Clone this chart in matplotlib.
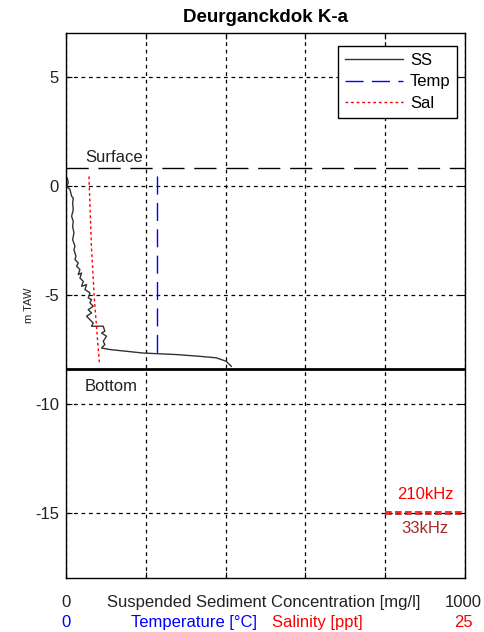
import matplotlib
matplotlib.use("Agg")
import matplotlib.pyplot as plt

plt.rcParams['font.family'] = ['Liberation Sans', 'DejaVu Sans']
plt.rcParams['axes.unicode_minus'] = False

# Data
ss_conc = [3.3, 5.8, 1.7, 10, 14.2, 18.3, 16.7, 18.3, 14.2, 18.3, 16.7, 20, 16.7, 22.5, 20,
           25, 22.5, 30.8, 26.7, 35, 30.8, 39.2, 35, 43.3, 39.2, 51.7, 47.5, 60, 55.8, 64.2,
           60, 68.3, 55.8, 64.2, 51.7, 60, 68.3, 64.2, 93.3, 97.5, 89.2, 101.7, 93.3, 97.5,
           89.2, 110, 151.7, 193.3, 276.7, 335, 376.7, 401.7, 414.2]
ss_depth = [0.35, 0.12, -0.03, -0.18, -0.49, -0.57, -0.80, -1.10, -1.41, -1.64, -1.87, -2.17,
            -2.48, -2.78, -2.94, -3.24, -3.39, -3.55, -3.70, -3.85, -4.08, -4.01, -4.24, -4.39,
            -4.62, -4.54, -4.77, -4.92, -5.15, -5.23, -5.38, -5.53, -5.69, -5.84, -5.99, -6.15,
            -6.30, -6.45, -6.45, -6.68, -6.76, -6.91, -7.14, -7.29, -7.45, -7.52, -7.60, -7.68,
            -7.75, -7.83, -7.90, -8.06, -8.29]
temp_val = [5.7, 5.7]            # degC
temp_depth = [0.45, -8.0]
sal_val = [1.44, 1.6, 1.78, 1.97, 2.1]   # ppt
sal_depth = [0.42, -2.9, -5.2, -7.0, -8.2]
surface_level = 0.83
bottom_level = -8.4
freq_levels = [-14.95, -15.05]
freq_labels = ['210kHz', '33kHz']
ss_max = 1000
scale_max = 25   # temperature / salinity axis max

FS = 12
TXT = '#222222'

fig = plt.figure(figsize=(4.85, 6.32), dpi=100)
ax = fig.add_axes([0.136, 0.0854, 0.823, 0.8624])

ax.plot(ss_conc, ss_depth, color='#333333', lw=1.0, label='SS')
f = ss_max / scale_max
ax.plot([v * f for v in temp_val], temp_depth, color='blue', lw=1.0,
        dashes=(13, 6), label='Temp')
ax.plot([v * f for v in sal_val], sal_depth, color='red', lw=1.0,
        dashes=(2, 2), label='Sal')

ax.axhline(surface_level, color='black', lw=1.0, dashes=(16, 7))
ax.axhline(bottom_level, color='black', lw=2.0)
ax.text(48, surface_level + 0.1, 'Surface', fontsize=FS, ha='left', va='bottom', color=TXT)
ax.text(48, bottom_level - 0.45, 'Bottom', fontsize=FS, ha='left', va='top', color=TXT)

ax.plot([800, 1000], [freq_levels[0]] * 2, color='red', lw=1.2, dashes=(4, 2))
ax.plot([800, 1000], [freq_levels[1]] * 2, color='#a52a2a', lw=1.2, dashes=(4, 2))
ax.text(900, -14.5, freq_labels[0], color='red', fontsize=FS, ha='center', va='bottom')
ax.text(900, -15.4, freq_labels[1], color='#a52a2a', fontsize=FS, ha='center', va='top')

ax.set_xlim(0, ss_max)
ax.set_ylim(-18, 7)
ax.set_xticks([0, 200, 400, 600, 800, 1000])
ax.set_xticklabels([])
ax.set_yticks([-15, -10, -5, 0, 5])
ax.tick_params(direction='in', top=True, right=True, labelsize=FS, length=4, color='black',
               labelcolor=TXT, pad=5)
ax.grid(True, color='black', lw=0.9, linestyle=(0, (3, 3)))
for s in ax.spines.values():
    s.set_linewidth(1.0)

ax.set_ylabel('m TAW', fontsize=8, color=TXT)
ax.yaxis.set_label_coords(-0.08, 0.5)
ax.set_title('Deurganckdok K-a', fontsize=13.5, fontweight='bold', pad=8)

leg = ax.legend(loc='upper right', bbox_to_anchor=(0.98, 0.976), borderaxespad=0,
                fontsize=FS, frameon=True, fancybox=False, edgecolor='black', framealpha=1,
                handlelength=3.5, borderpad=0.4, labelspacing=0.4, handletextpad=0.4)
leg.get_frame().set_linewidth(1.0)

# bottom labels
r1, r2 = -19.12, -20.03
ax.text(0, r1, '0', fontsize=FS, ha='center', va='center', color=TXT)
ax.text(495, r1, 'Suspended Sediment Concentration [mg/l]', fontsize=FS, ha='center', va='center', color=TXT)
ax.text(995, r1, '1000', fontsize=FS, ha='center', va='center', color=TXT)
ax.text(0, r2, '0', fontsize=FS, ha='center', va='center', color='blue')
ax.text(320, r2, 'Temperature [°C]', fontsize=FS, ha='center', va='center', color='blue')
ax.text(630, r2, 'Salinity [ppt]', fontsize=FS, ha='center', va='center', color='red')
ax.text(997, r2, '25', fontsize=FS, ha='center', va='center', color='red')

fig.savefig('out.png', dpi=100)
